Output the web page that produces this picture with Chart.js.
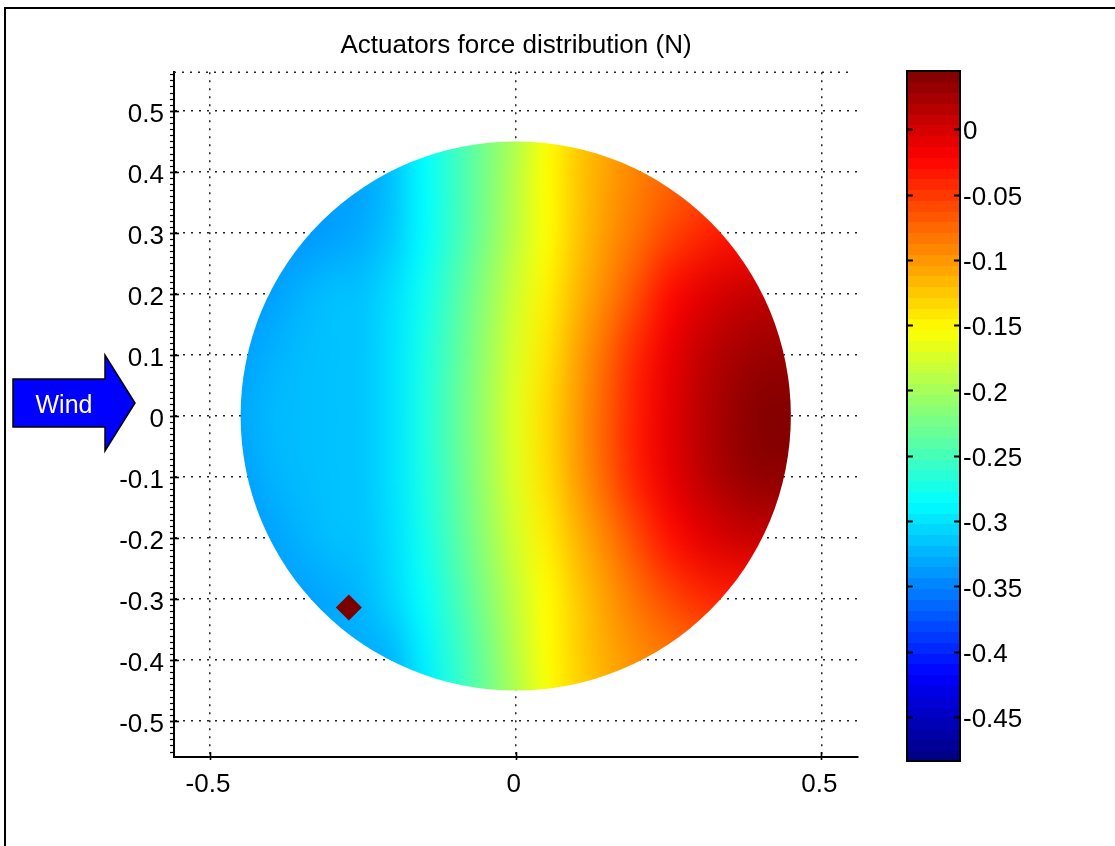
<!DOCTYPE html>
<html>
<head>
<meta charset="utf-8">
<title>Actuators force distribution (N)</title>
<script src="https://cdn.jsdelivr.net/npm/chart.js@4/dist/chart.umd.min.js"></script>
<style>
  html, body { margin: 0; padding: 0; background: #fff; }
  #page { position: relative; width: 1115px; height: 846px; overflow: hidden; font-family: 'Liberation Sans', Arial, sans-serif; }
  #frame { position: absolute; left: 4px; top: 7px; right: -10px; bottom: -10px; border-top: 2px solid #000; border-left: 2px solid #000; }
  #main { position: absolute; left: 0; top: 0; }
  #cbar { position: absolute; left: 880px; top: 0; }
  #wind { position: absolute; left: 0; top: 0; }
</style>
</head>
<body>
<div id="page">
  <div id="frame"></div>
  <canvas id="main" width="1115" height="846"></canvas>
  <canvas id="cbar" width="235" height="846"></canvas>
  <svg id="wind" width="150" height="470">
    <polygon points="13,379 105,379 105,355 135,403 105,451 105,427 13,427" fill="#0000ff" stroke="#000" stroke-width="1.5"/>
    <text x="64" y="404" text-anchor="middle" dominant-baseline="central" fill="#fff" font-size="25" font-family="'Liberation Sans', Arial, sans-serif">Wind</text>
  </svg>
</div>
<script>
// ================================================================
// DATA
// ================================================================
const GRID_X = [-0.45, -0.4, -0.35, -0.3, -0.25, -0.2, -0.15, -0.1, -0.05, 0, 0.05, 0.1, 0.15, 0.2, 0.25, 0.3, 0.35, 0.4, 0.45];
const GRID_Y = [0.5, 0.4, 0.3, 0.2, 0.1, 0, -0.1, -0.2, -0.3, -0.4, -0.5];

// force (N) per grid row, columns follow GRID_X, null = off the mirror
const rowP5 = [null, null, null, null, -0.32, -0.31, -0.285, -0.255, -0.224, -0.198, -0.157, -0.13, -0.11, -0.092, -0.08, null, null, null, null];
const rowP4 = [null, null, -0.34, -0.34, -0.332, -0.316, -0.286, -0.256, -0.224, -0.19, -0.153, -0.126, -0.105, -0.088, -0.075, -0.064, -0.055, null, null];
const rowP3 = [-0.35, -0.345, -0.34, -0.335, -0.328, -0.313, -0.287, -0.256, -0.222, -0.187, -0.155, -0.125, -0.1, -0.08, -0.058, -0.043, -0.032, -0.028, -0.025];
const rowP2 = [-0.34, -0.335, -0.325, -0.318, -0.316, -0.302, -0.278, -0.246, -0.212, -0.178, -0.147, -0.117, -0.09, -0.06, -0.028, -0.009, 0.003, 0.01, 0.01];
const rowP1 = [-0.335, -0.326, -0.32, -0.317, -0.315, -0.3, -0.273, -0.241, -0.207, -0.172, -0.14, -0.107, -0.074, -0.04, -0.012, 0.008, 0.022, 0.03, 0.032];
const row0  = [-0.33, -0.322, -0.319, -0.317, -0.315, -0.3, -0.271, -0.238, -0.203, -0.168, -0.135, -0.102, -0.068, -0.035, -0.008, 0.013, 0.03, 0.041, 0.043];
const rowM1 = [-0.335, -0.325, -0.32, -0.317, -0.315, -0.3, -0.272, -0.24, -0.205, -0.17, -0.137, -0.104, -0.07, -0.037, -0.01, 0.01, 0.026, 0.035, 0.037];
const rowM2 = [-0.34, -0.333, -0.325, -0.318, -0.316, -0.302, -0.276, -0.244, -0.21, -0.176, -0.145, -0.116, -0.088, -0.058, -0.03, -0.01, 0.002, 0.008, 0.008];
const rowM3 = [-0.345, -0.34, -0.335, -0.33, -0.322, -0.306, -0.283, -0.253, -0.219, -0.184, -0.153, -0.127, -0.103, -0.08, -0.06, -0.045, -0.037, -0.033, -0.03];
const rowM4 = [null, null, -0.34, -0.335, -0.33, -0.322, -0.294, -0.262, -0.228, -0.19, -0.155, -0.13, -0.11, -0.095, -0.085, -0.075, -0.07, null, null];
const rowM5 = [null, null, null, null, -0.335, -0.325, -0.298, -0.265, -0.23, -0.198, -0.16, -0.135, -0.115, -0.1, -0.09, null, null, null, null];
const FORCE = [rowP5, rowP4, rowP3, rowP2, rowP1, row0, rowM1, rowM2, rowM3, rowM4, rowM5];

const DISK_RADIUS = 0.45;
const MARKER_X = [-0.273];
const MARKER_Y = [-0.314];

const CLIM = [-0.4837, 0.0446];
const X_TICKS = [-0.5, 0, 0.5];
const Y_TICKS = [-0.5, -0.4, -0.3, -0.2, -0.1, 0, 0.1, 0.2, 0.3, 0.4, 0.5];
const CBAR_TICKS = [0, -0.05, -0.1, -0.15, -0.2, -0.25, -0.3, -0.35, -0.4, -0.45];

// ================================================================
// HELPERS
// ================================================================
Chart.defaults.font.family = "'Liberation Sans', Arial, sans-serif";
Chart.defaults.color = '#000';

function jet(t) {
    t = Math.max(0, Math.min(1, t));
    const f = c => Math.round(255 * Math.max(0, Math.min(1, 1.5 - Math.abs(4 * t - c))));
    return [f(3), f(2), f(1)];
}
const toT = v => (v - CLIM[0]) / (CLIM[1] - CLIM[0]);

function buildField() {
    const w = GRID_X.length, h = GRID_Y.length;
    const off = document.createElement('canvas'); off.width = w; off.height = h;
    const octx = off.getContext('2d');
    const img = octx.createImageData(w, h);
    FORCE.forEach((row, j) => row.forEach((v, i) => {
        if (v === null) return;
        const k = (j * w + i) * 4;
        const [r, g, b] = jet(toT(v));
        img.data[k] = r; img.data[k + 1] = g; img.data[k + 2] = b; img.data[k + 3] = 255;
    }));
    octx.putImageData(img, 0, 0);
    return off;
}
const fieldImg = buildField();

const diskPlugin = {
    id: 'disk',
    beforeDatasetsDraw(chart) {
        const { ctx, scales: { x, y } } = chart;
        const cx = x.getPixelForValue(0), cy = y.getPixelForValue(0);
        const rx = x.getPixelForValue(DISK_RADIUS) - cx, ry = cy - y.getPixelForValue(DISK_RADIUS);
        const hx = (GRID_X[1] - GRID_X[0]) / 2, hy = (GRID_Y[0] - GRID_Y[1]) / 2;
        const left = x.getPixelForValue(GRID_X[0] - hx), right = x.getPixelForValue(GRID_X[GRID_X.length - 1] + hx);
        const top = y.getPixelForValue(GRID_Y[0] + hy), bottom = y.getPixelForValue(GRID_Y[GRID_Y.length - 1] - hy);
        ctx.save();
        ctx.beginPath();
        ctx.ellipse(cx, cy, rx, ry, 0, 0, Math.PI * 2);
        ctx.clip();
        ctx.imageSmoothingEnabled = true;
        ctx.imageSmoothingQuality = 'high';
        ctx.drawImage(fieldImg, left, top, right - left, bottom - top);
        ctx.restore();
    }
};

const axesDecor = {
    id: 'axesDecor',
    afterDraw(chart) {
        const { ctx, chartArea: a, scales: { x, y } } = chart;
        ctx.save();
        // dotted top edge
        ctx.strokeStyle = '#222'; ctx.lineWidth = 1.5; ctx.setLineDash([2, 6]);
        ctx.beginPath(); ctx.moveTo(a.left, a.top); ctx.lineTo(a.right - 4, a.top); ctx.stroke();
        ctx.setLineDash([]);
        ctx.strokeStyle = '#000';
        // minor ticks on the y axis
        ctx.lineWidth = 1.2;
        for (let k = -55; k <= 56; k++) {
            const py = Math.round(y.getPixelForValue(k / 100)) + 0.5;
            ctx.beginPath(); ctx.moveTo(a.left - 4, py); ctx.lineTo(a.left, py); ctx.stroke();
        }
        ctx.lineWidth = 1.6;
        Y_TICKS.forEach(v => {
            const py = Math.round(y.getPixelForValue(v)) + 0.5;
            ctx.beginPath(); ctx.moveTo(a.left - 4, py); ctx.lineTo(a.left + 5, py); ctx.stroke();
        });
        X_TICKS.forEach(v => {
            const px = Math.round(x.getPixelForValue(v)) + 0.5;
            ctx.beginPath(); ctx.moveTo(px, a.bottom - 5); ctx.lineTo(px, a.bottom + 3); ctx.stroke();
        });
        ctx.restore();
    }
};

const tickFont = { size: 26 };

// ================================================================
// MAIN MAP
// ================================================================
new Chart(document.getElementById('main'), {
    type: 'scatter',
    data: {
        datasets: [{
            data: MARKER_X.map((x, i) => ({ x, y: MARKER_Y[i] })),
            pointStyle: 'rectRot', pointRadius: 13, backgroundColor: '#7a0000', borderWidth: 0
        }]
    },
    options: {
        responsive: false, animation: false, events: [],
        layout: { padding: { left: 0, top: 0, right: 257, bottom: 0 } },
        plugins: {
            legend: { display: false }, tooltip: { enabled: false },
            title: {
                display: true, text: 'Actuators force distribution (N)', fullSize: false, color: '#000',
                font: { size: 26, weight: 'normal' }, padding: { top: 30, bottom: 11 }
            }
        },
        scales: {
            x: {
                type: 'linear', min: -0.5589, max: 0.5598,
                afterBuildTicks: s => { s.ticks = X_TICKS.map(v => ({ value: v })); },
                afterFit: s => { s.height = 89; },
                grid: { color: '#222', lineWidth: 1.5, drawTicks: false },
                border: { color: '#000', width: 2, dash: [2, 6] },
                ticks: { padding: 12, labelOffset: -2, font: tickFont, color: '#000', autoSkip: false, maxRotation: 0,
                         callback: v => String(+v.toFixed(1)) }
            },
            y: {
                type: 'linear', min: -0.559, max: 0.5634,
                afterBuildTicks: s => { s.ticks = Y_TICKS.map(v => ({ value: v })); },
                afterFit: s => { s.width = 174; },
                grid: { color: '#222', lineWidth: 1.5, drawTicks: false },
                border: { color: '#000', width: 2, dash: [2, 6] },
                ticks: { padding: 10, labelOffset: 4, font: tickFont, color: '#000', autoSkip: false,
                         callback: v => String(+v.toFixed(1)) }
            }
        }
    },
    plugins: [diskPlugin, axesDecor]
});

// ================================================================
// COLORBAR
// ================================================================
const colorbarPlugin = {
    id: 'colorbar',
    beforeDatasetsDraw(chart) {
        const { ctx, chartArea: a, scales: { y } } = chart;
        const n = 64, span = CLIM[1] - CLIM[0];
        ctx.save();
        for (let i = 0; i < n; i++) {
            const y0 = y.getPixelForValue(CLIM[0] + span * i / n);
            const y1 = y.getPixelForValue(CLIM[0] + span * (i + 1) / n);
            const [r, g, b] = jet((i + 0.5) / n);
            ctx.fillStyle = `rgb(${r},${g},${b})`;
            ctx.fillRect(a.left, Math.floor(y1), a.right - a.left, Math.ceil(y0) - Math.floor(y1));
        }
        ctx.strokeStyle = '#000'; ctx.lineWidth = 2;
        ctx.strokeRect(a.left, a.top, a.right - a.left, a.bottom - a.top);
        CBAR_TICKS.forEach(v => {
            const py = Math.round(y.getPixelForValue(v)) + 0.5;
            ctx.beginPath();
            ctx.moveTo(a.left, py); ctx.lineTo(a.left + 6, py);
            ctx.moveTo(a.right - 6, py); ctx.lineTo(a.right, py);
            ctx.stroke();
        });
        ctx.restore();
    }
};

new Chart(document.getElementById('cbar'), {
    type: 'scatter',
    data: { datasets: [] },
    options: {
        responsive: false, animation: false, events: [],
        layout: { padding: { left: 27, top: 71, bottom: 85, right: 0 } },
        plugins: { legend: { display: false }, tooltip: { enabled: false } },
        scales: {
            x: { display: false, min: 0, max: 1 },
            y: {
                position: 'right', min: CLIM[0], max: CLIM[1],
                afterBuildTicks: s => { s.ticks = CBAR_TICKS.map(v => ({ value: v })); },
                afterFit: s => { s.width = 155; },
                grid: { display: false, drawTicks: false },
                border: { display: false },
                ticks: { padding: 3, labelOffset: 3, font: tickFont, color: '#000', autoSkip: false,
                         callback: v => String(+v.toFixed(2)) }
            }
        }
    },
    plugins: [colorbarPlugin]
});
</script>
</body>
</html>
